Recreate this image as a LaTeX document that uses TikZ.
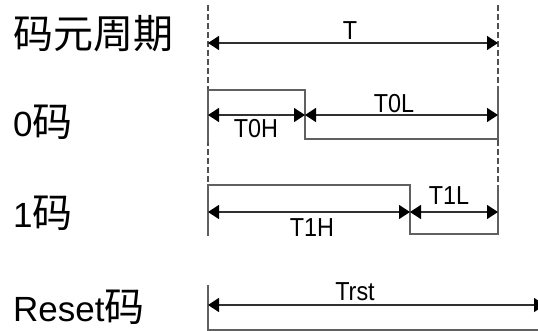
\documentclass[tikz,border=0pt]{standalone}
\usepackage{fontspec}
\setmainfont{Liberation Sans}
\newfontfamily\cjk{Noto Sans CJK SC}
\usetikzlibrary{arrows.meta}
\definecolor{wavegray}{HTML}{606060}
\definecolor{dimgray}{HTML}{303030}
\definecolor{guidegray}{HTML}{505050}
\begin{document}
\begin{tikzpicture}[x=1pt,y=-1pt,
  wave/.style={draw=wavegray,line width=1.8pt,line join=miter},
  dim/.style={draw=dimgray,line width=1.3pt,{Triangle[length=11pt,width=14pt,color=black]}-{Triangle[length=11pt,width=14pt,color=black]}},
  guide/.style={draw=guidegray,line width=1.1pt,dash pattern=on 6pt off 3pt},
  rowlabel/.style={anchor=west,inner sep=0pt,font=\fontsize{35}{35}\selectfont},
  dimlabel/.style={inner sep=0pt,xscale=0.9,font=\fontsize{26}{26}\selectfont}]
\useasboundingbox (0,0) rectangle (538,331);
% guides
\coordinate (gLt) at (208,5);
\coordinate (gLb) at (208,186);
\coordinate (gRt) at (498,5);
\coordinate (gRb) at (498,186);
\draw[guide] (gLt) -- (gLb);
\draw[guide] (gRt) -- (gRb);
% row labels
\node[rowlabel] (lab0) at (13,34) {\cjk\fontsize{40}{40}\selectfont 码元周期};
\node[rowlabel] (lab1) at (13,122) {0{\cjk\fontsize{40}{40}\selectfont 码}};
\node[rowlabel] (lab2) at (13,213) {1{\cjk\fontsize{40}{40}\selectfont 码}};
\node[rowlabel] (lab3) at (13,307) {Reset{\cjk\fontsize{40}{40}\selectfont 码}};
% period
\coordinate (tA) at (208,43);
\coordinate (tB) at (498,43);
\draw[dim] (tA) -- (tB);
\node[dimlabel] (tT) at (350,31) {T};
% 0 code
\coordinate (z1) at (208,143);
\coordinate (z2) at (208,90);
\coordinate (z3) at (305,90);
\coordinate (z4) at (305,139);
\coordinate (z5) at (498,139);
\coordinate (z6) at (498,86);
\draw[wave] (z1) -- (z2) -- (z3) -- (z4) -- (z5) -- (z6);
\coordinate (zA) at (208,115);
\coordinate (zB) at (305,115);
\coordinate (zC) at (498,115);
\draw[dim] (zA) -- (zB);
\draw[dim] (zB) -- (zC);
\node[dimlabel] (t0h) at (256,129) {T0H};
\node[dimlabel] (t0l) at (394,104) {T0L};
% 1 code
\coordinate (o1) at (208,236);
\coordinate (o2) at (208,185);
\coordinate (o3) at (410,185);
\coordinate (o4) at (410,234);
\coordinate (o5) at (498,234);
\coordinate (o6) at (498,185);
\draw[wave] (o1) -- (o2) -- (o3) -- (o4) -- (o5) -- (o6);
\coordinate (oA) at (208,212);
\coordinate (oB) at (410,212);
\coordinate (oC) at (498,212);
\draw[dim] (oA) -- (oB);
\draw[dim] (oB) -- (oC);
\node[dimlabel] (t1h) at (312,228) {T1H};
\node[dimlabel] (t1l) at (449,196) {T1L};
% reset code
\coordinate (r1) at (208,285);
\coordinate (r2) at (208,330);
\coordinate (r3) at (545,330);
\draw[wave] (r1) -- (r2) -- (r3);
\coordinate (rA) at (208,305);
\coordinate (rB) at (545,305);
\draw[dim] (rA) -- (rB);
\node[dimlabel] (trst) at (355,292) {Trst};
\end{tikzpicture}
\end{document}
